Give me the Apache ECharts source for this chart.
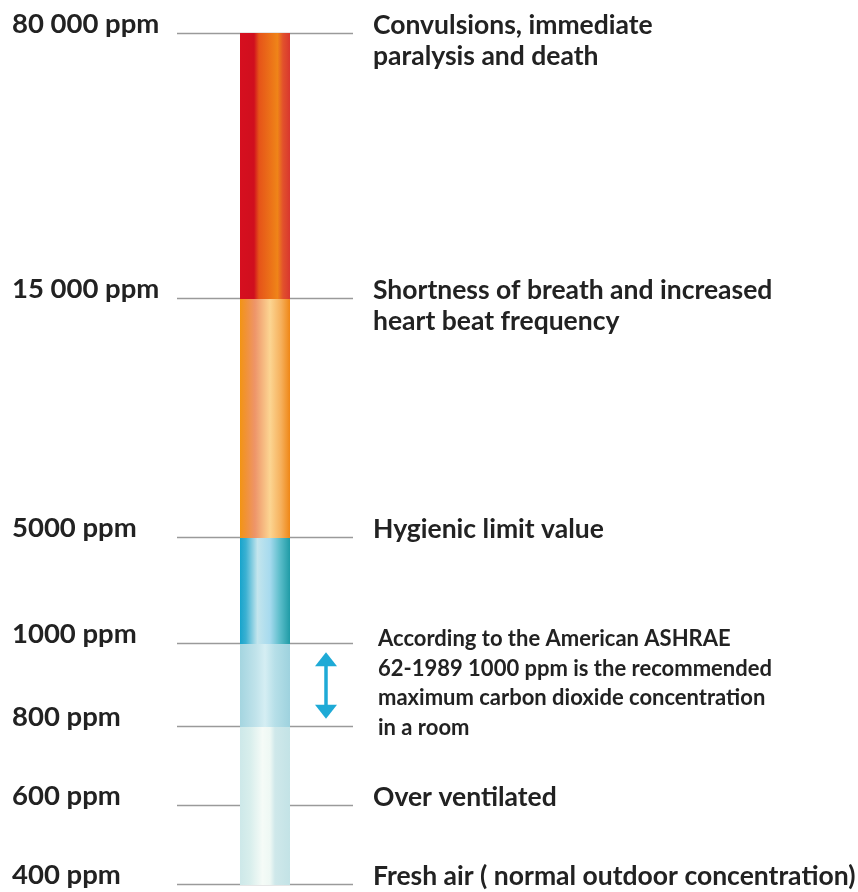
<!DOCTYPE html>
<html>
<head>
<meta charset="utf-8">
<script src="https://cdn.jsdelivr.net/npm/echarts@6/dist/echarts.min.js"></script>
<style>
    html, body { margin: 0; padding: 0; background: #fff; }
    #chart { width: 858px; height: 892px; }
</style>
</head>
<body>
<div id="chart"></div>
<script>
// CO2 levels in ppm, bottom to top
const levels = [400, 600, 800, 1000, 5000, 15000, 80000];
const levelLabels = ['400 ppm', '600 ppm', '800 ppm', '1000 ppm', '5000 ppm', '15 000 ppm', '80 000 ppm'];
// the scale of the picture is schematic, not linear: where each level sits (0 = bottom, 100 = top)
const levelScale = [0, 9.3, 18.6, 28.3, 40.8, 68.9, 100];
const descriptions = [
    'Fresh air ( normal outdoor concentration)',
    'Over ventilated',
    '',
    '',
    'Hygienic limit value',
    'Shortness of breath and increased\nheart beat frequency',
    'Convulsions, immediate\nparalysis and death'
];
// colour bands of the column
const bandEdges = [400, 800, 1000, 5000, 15000, 80000];
// recommended range, marked with the arrow
const recommendedRange = [800, 1000];
const recommendedNote = 'According to the American ASHRAE\n62-1989 1000 ppm is the recommended\nmaximum carbon dioxide concentration\nin a room';

// horizontal gradients of each band (left -> right)
const bandColors = [
    [[0, '#cde8e9'], [0.2, '#d8eeec'], [0.45, '#f5fbf7'], [0.6, '#eef8f4'], [0.7, '#cfe8ea'], [1, '#c3e3e6']],
    [[0, '#a4d5e0'], [0.3, '#bfe2ea'], [0.5, '#d5eef3'], [0.7, '#b6dfe8'], [1, '#9ed2de']],
    [[0, '#17a4cc'], [0.12, '#3cb1d2'], [0.35, '#c3e5ed'], [0.6, '#a6daee'], [0.8, '#5bbdca'], [1, '#1f9ba6']],
    [[0, '#f39414'], [0.12, '#f19236'], [0.3, '#ee956a'], [0.6, '#fcd592'], [0.82, '#f6b05c'], [1, '#ef8716']],
    [[0, '#d60f1f'], [0.28, '#d00f1e'], [0.38, '#e65419'], [0.75, '#ef8418'], [0.86, '#e2512c'], [1, '#d8372e']]
];

const font = 'Lato, "Open Sans", sans-serif';
const textColor = '#222';
const scaleOf = v => levelScale[levels.indexOf(v)];

let chart = echarts.init(document.getElementById('chart'));

let option = {
    animation: false,
    grid: { left: 177, right: 505, top: 33, bottom: 8 },
    xAxis: { type: 'value', min: 0, max: 1, show: false },
    yAxis: { type: 'value', min: 0, max: 100, show: false },
    series: [
        {
            name: 'levels',
            type: 'custom',
            z: 1,
            data: levels.map((v, i) => [0.5, levelScale[i]]),
            renderItem: (params, api) => {
                let cs = params.coordSys;
                let y = Math.round(api.coord([0, api.value(1)])[1]) + 0.5;
                let i = params.dataIndex;
                let children = [{
                    type: 'line',
                    shape: { x1: cs.x, y1: y, x2: cs.x + cs.width, y2: y },
                    style: { stroke: '#9a9a9a', lineWidth: 1.6 }
                }, {
                    type: 'text',
                    x: cs.x - 165,
                    y: y - 9,
                    style: {
                        text: levelLabels[i], fill: textColor, fontFamily: font,
                        fontWeight: 'bold', fontSize: 27.5, align: 'left', verticalAlign: 'middle'
                    }
                }];
                if (descriptions[i]) {
                    children.push({
                        type: 'text',
                        x: cs.x + cs.width + 20,
                        y: y - 8 - 15.5,
                        style: {
                            text: descriptions[i], fill: textColor, fontFamily: font,
                            fontWeight: 'bold', fontSize: 26.5, lineHeight: 31,
                            align: 'left', verticalAlign: 'top'
                        }
                    });
                }
                return { type: 'group', children: children };
            }
        },
        {
            name: 'column',
            type: 'custom',
            z: 3,
            data: bandEdges.slice(1).map((top, i) => [scaleOf(bandEdges[i]), scaleOf(top)]),
            renderItem: (params, api) => {
                let cs = params.coordSys;
                let yLo = Math.round(api.coord([0, api.value(0)])[1]);
                let yHi = Math.round(api.coord([0, api.value(1)])[1]);
                let cx = cs.x + cs.width / 2;
                return {
                    type: 'rect',
                    shape: { x: cx - 25, y: yHi, width: 50, height: yLo - yHi + 1 },
                    style: {
                        fill: new echarts.graphic.LinearGradient(0, 0, 1, 0,
                            bandColors[params.dataIndex].map(s => ({ offset: s[0], color: s[1] })))
                    }
                };
            }
        },
        {
            name: 'recommended',
            type: 'custom',
            z: 4,
            data: [[scaleOf(recommendedRange[0]), scaleOf(recommendedRange[1])]],
            renderItem: (params, api) => {
                let cs = params.coordSys;
                let yLo = api.coord([0, api.value(0)])[1];
                let yHi = api.coord([0, api.value(1)])[1];
                let ax = cs.x + cs.width - 27;
                let top = yHi + 9, bottom = yLo - 7, head = 14, hw = 11;
                let blue = '#1eaad6';
                return {
                    type: 'group',
                    children: [{
                        type: 'line',
                        shape: { x1: ax, y1: top + head - 1, x2: ax, y2: bottom - head + 1 },
                        style: { stroke: blue, lineWidth: 3.5 }
                    }, {
                        type: 'polygon',
                        shape: { points: [[ax, top], [ax - hw, top + head], [ax + hw, top + head]] },
                        style: { fill: blue }
                    }, {
                        type: 'polygon',
                        shape: { points: [[ax, bottom], [ax - hw, bottom - head], [ax + hw, bottom - head]] },
                        style: { fill: blue }
                    }, {
                        type: 'text',
                        x: cs.x + cs.width + 25,
                        y: (yLo + yHi) / 2 - 1,
                        style: {
                            text: recommendedNote, fill: textColor, fontFamily: font,
                            fontWeight: 'bold', fontSize: 22, lineHeight: 29.5,
                            align: 'left', verticalAlign: 'middle'
                        }
                    }]
                };
            }
        }
    ]
};

chart.setOption(option);
</script>
</body>
</html>
